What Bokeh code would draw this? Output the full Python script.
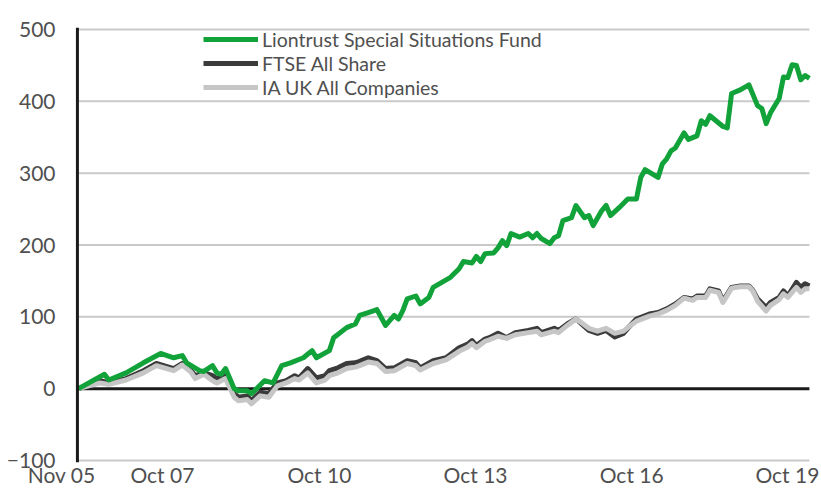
from bokeh.plotting import figure
from bokeh.models import FixedTicker, Span, Legend, LegendItem, ColumnDataSource
from bokeh.embed import file_html
from bokeh.resources import INLINE

# x values are months since Nov 2005
fund_month = [0,6,7,11,15,19,22,24,25,28,29,31,32,33,34,36,37,39,40,43,45,47,49,52,54,55,58,59,62,64,
              65,67,69,70,71,73,74,75,76,78,79,81,82,84,86,88,89,91,92,93,94,96,97,98,99,100,102,104,105,106,
              107,109,110,111,112,114,115,117,118,119,121,122,123,125,127,129,130,131,134,135,
              136,137,138,140,141,143,144,145,146,149,150,151,153,155,157,158,159,160,162,163,
              164,165,166,167,168,169]
fund_value = [0,20,12,22,36,49,43,46,36,25,24,32,22,20,28,0,-3,-3,-7,11,8,32,36,43,53,43,53,71,85,90,
              102,106,110,99,88,102,97,109,125,129,118,127,141,148,155,167,177,175,184,177,
              188,189,196,206,199,216,211,216,210,216,209,202,210,213,234,238,255,238,241,227,
              248,255,241,252,264,264,294,305,294,313,320,331,335,356,347,352,373,368,380,365,
              363,411,416,423,394,390,369,384,404,434,433,451,450,430,436,432]

bench_month = [0,5,7,11,15,18,22,24,26,27,29,31,32,34,36,37,39,40,42,44,46,48,50,51,53,55,57,58,60,62,
               64,65,67,69,71,73,76,78,79,82,85,88,90,91,92,94,95,97,99,101,104,106,107,110,111,113,115,116,118,120,
               122,124,126,127,129,132,134,136,138,140,142,143,145,146,148,149,151,153,155,156,
               157,159,160,162,163,164,166,167,168,169]
ftse_value = [0,11,8,14,25,35,28,35,25,18,22,18,14,21,-7,-12,-10,-17,-5,-7,8,11,18,15,28,15,18,25,29,35,
              36,38,43,39,28,29,39,36,29,39,43,57,62,67,60,69,71,77,71,78,81,84,78,84,81,90,97,92,81,77,
              81,72,77,84,97,104,106,111,118,127,125,129,129,139,136,122,141,143,143,136,
              125,113,120,127,136,129,148,141,146,143]
ia_value = [0,8,6,12,22,32,25,33,23,14,20,11,8,14,-12,-17,-15,-21,-10,-12,4,8,14,12,22,8,12,18,22,28,
            30,32,37,35,24,25,35,32,26,35,40,52,58,63,57,66,68,73,70,75,78,80,75,80,78,88,97,93,84,80,
            84,77,80,85,94,101,104,109,116,126,123,127,127,137,134,120,140,142,142,135,
            122,108,116,124,132,127,141,134,139,139]

series_names = ["Liontrust Special Situations Fund", "FTSE All Share", "IA UK All Companies"]
y_ticks = [-100, 0, 100, 200, 300, 400, 500]
grid_values = [-100, 100, 200, 300, 400, 500]
x_tick_pos = [-3.9, 19.4, 55.7, 91.8, 127.9, 163.9]
x_tick_labels = ["Nov 05", "Oct 07", "Oct 10", "Oct 13", "Oct 16", "Oct 19"]

GREEN = "#12a23a"
DARK = "#3b3b3b"
LIGHT = "#c6c6c6"
TEXT = "#505050"
FONT = "Lato"

p = figure(width=821, height=489, x_range=(-4.393, 169.71), y_range=(-102.8, 502.8),
           min_border_left=59, min_border_right=9, min_border_top=27, min_border_bottom=27,
           output_backend="svg", toolbar_location=None, tools="")
p.outline_line_color = None
p.grid.visible = False

last = bench_month[-1]
# grid lines restricted to the data span
p.segment(x0=[0]*len(grid_values), x1=[last]*len(grid_values), y0=grid_values, y1=grid_values,
          line_color="#c9c9c9", line_width=2)
# zero line
p.segment(x0=[-0.25], x1=[last], y0=[0], y1=[0], line_color="#1a1a1a", line_width=3)
# vertical axis line
p.add_layout(Span(location=-0.25, dimension="height", line_color="#1a1a1a", line_width=3))

src_b = ColumnDataSource(dict(m=bench_month, ftse=ftse_value, ia=ia_value))
src_f = ColumnDataSource(dict(m=fund_month, fund=fund_value))
r_ftse = p.line("m", "ftse", source=src_b, line_color=DARK, line_width=5, line_join="round")
r_ia = p.line("m", "ia", source=src_b, line_color=LIGHT, line_width=5, line_join="round")
r_fund = p.line("m", "fund", source=src_f, line_color=GREEN, line_width=5, line_join="round")

legend = Legend(items=[LegendItem(label=series_names[0], renderers=[r_fund]),
                       LegendItem(label=series_names[1], renderers=[r_ftse]),
                       LegendItem(label=series_names[2], renderers=[r_ia])],
                location=(144, 363), orientation="vertical",
                glyph_width=55, glyph_height=24, label_height=24, label_standoff=4,
                spacing=0, padding=0, margin=0, border_line_color=None, background_fill_alpha=0,
                label_text_font=FONT, label_text_font_size="19.5px", label_text_color=TEXT)
p.add_layout(legend, "center")

p.xaxis.ticker = FixedTicker(ticks=x_tick_pos)
p.xaxis.major_label_overrides = {k: v for k, v in zip(x_tick_pos, x_tick_labels)}
p.yaxis.ticker = FixedTicker(ticks=y_ticks)
for ax in (p.xaxis, p.yaxis):
    ax.axis_line_color = None
    ax.major_tick_line_color = None
    ax.minor_tick_line_color = None
    ax.major_tick_out = 0
    ax.major_tick_in = 0
    ax.major_label_text_font = FONT
    ax.major_label_text_color = TEXT
p.xaxis.major_label_text_font_size = "21px"
p.yaxis.major_label_text_font_size = "21px"
p.xaxis.major_label_standoff = -1
p.yaxis.major_label_standoff = 4

open("out.html", "w").write(file_html(p, INLINE))
